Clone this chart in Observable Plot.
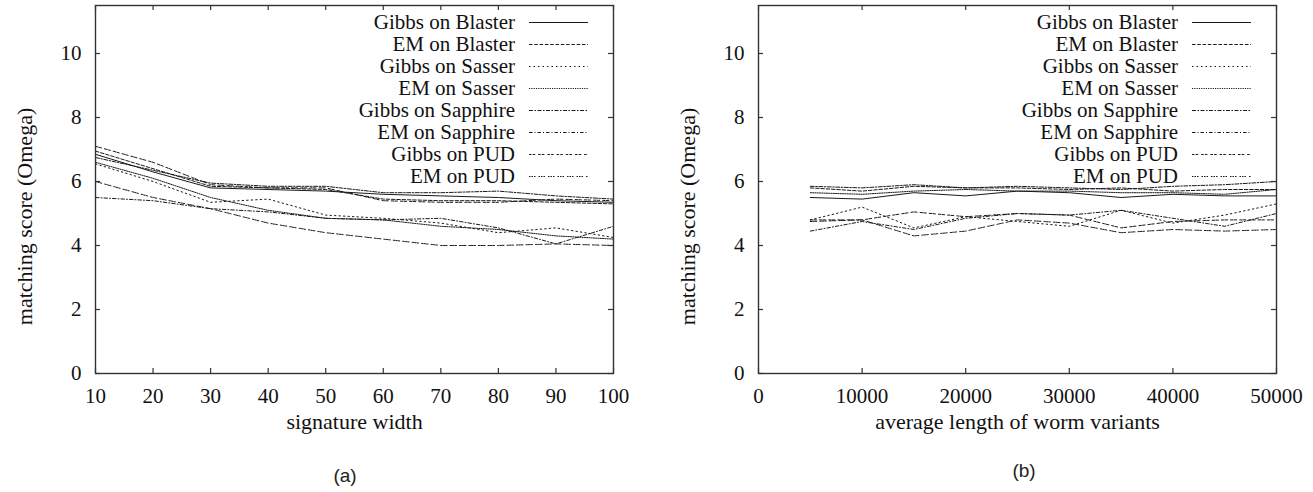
<!DOCTYPE html>
<html>
<head>
<meta charset="utf-8">
<script src="https://cdn.jsdelivr.net/npm/d3@7"></script>
<script src="https://cdn.jsdelivr.net/npm/@observablehq/plot@0.6"></script>
<style>
  html, body { margin: 0; padding: 0; background: #fff; }
  #page { position: relative; width: 1313px; height: 492px; overflow: hidden; }
  #page svg text { font-family: "Liberation Serif", "Times New Roman", serif !important; }
  .panel { position: absolute; top: 0; }
  .caption { position: absolute; font-family: "Liberation Sans", Arial, sans-serif; font-size: 19px; color: #222; transform: translate(-50%, -50%); }
  .legend { position: absolute; left: 0; top: 0; width: 1313px; height: 492px; font-family: "Liberation Serif", "Times New Roman", serif; font-size: 21px; color: #111; }
  .legend .row { position: absolute; height: 22px; line-height: 22px; white-space: nowrap; text-align: right; }
</style>
</head>
<body>
<div id="page"></div>
<script>
// ---------- data ----------
const seriesNames = [
  "Gibbs on Blaster", "EM on Blaster", "Gibbs on Sasser", "EM on Sasser",
  "Gibbs on Sapphire", "EM on Sapphire", "Gibbs on PUD", "EM on PUD"
];

// panel (a): signature width
const widthX = [10, 20, 30, 40, 50, 60, 70, 80, 90, 100];
const gibbsBlasterA   = [6.85, 6.30, 5.80, 5.75, 5.70, 5.60, 5.55, 5.50, 5.40, 5.35];
const emBlasterA      = [6.95, 6.40, 5.85, 5.80, 5.75, 5.45, 5.40, 5.40, 5.35, 5.30];
const gibbsSasserA    = [6.55, 6.00, 5.35, 5.45, 4.95, 4.85, 4.70, 4.40, 4.55, 4.25];
const emSasserA       = [6.60, 6.10, 5.50, 5.10, 4.85, 4.80, 4.60, 4.50, 4.30, 4.20];
const gibbsSapphireA  = [6.75, 6.35, 5.95, 5.85, 5.85, 5.65, 5.65, 5.70, 5.55, 5.45];
const emSapphireA     = [5.50, 5.40, 5.15, 5.05, 4.85, 4.80, 4.85, 4.55, 4.05, 4.60];
const gibbsPudA       = [7.10, 6.60, 5.90, 5.80, 5.80, 5.40, 5.35, 5.35, 5.45, 5.40];
const emPudA          = [6.00, 5.50, 5.15, 4.70, 4.40, 4.20, 4.00, 4.00, 4.05, 4.00];

// panel (b): average length of worm variants
const lengthX = [5000, 10000, 15000, 20000, 25000, 30000, 35000, 40000, 45000, 50000];
const gibbsBlasterB   = [5.50, 5.45, 5.65, 5.55, 5.70, 5.65, 5.50, 5.60, 5.55, 5.55];
const emBlasterB      = [5.80, 5.70, 5.85, 5.80, 5.80, 5.75, 5.80, 5.70, 5.75, 5.75];
const gibbsSasserB    = [4.80, 5.20, 4.55, 4.90, 4.75, 4.60, 5.10, 4.70, 4.95, 5.30];
const emSasserB       = [5.65, 5.60, 5.70, 5.75, 5.70, 5.70, 5.65, 5.65, 5.60, 5.75];
const gibbsSapphireB  = [5.85, 5.80, 5.90, 5.80, 5.85, 5.80, 5.75, 5.85, 5.90, 6.00];
const emSapphireB     = [4.45, 4.75, 4.50, 4.85, 5.00, 4.95, 5.10, 4.85, 4.60, 5.00];
const gibbsPudB       = [4.80, 4.80, 5.05, 4.90, 5.00, 4.95, 4.55, 4.75, 4.80, 4.80];
const emPudB          = [4.75, 4.80, 4.30, 4.45, 4.80, 4.70, 4.40, 4.50, 4.45, 4.50];

const yTicks = [0, 2, 4, 6, 8, 10];
const xTicksA = [10, 20, 30, 40, 50, 60, 70, 80, 90, 100];
const xTicksB = [0, 10000, 20000, 30000, 40000, 50000];

const yLabel = "matching score (Omega)";
const xLabelA = "signature width";
const xLabelB = "average length of worm variants";

// ---------- styles ----------
const dashes = [null, "3.5,1.8", "1.5,3", "1.2,1.1", "4,1.5,1.5,1.5", "3.5,2,1,2", "2.5,1.2,2.5,3", "1.5,1,1.5,1,1.5,3"];
const lineColor = "#1a1a1a";
const frameColor = "#333";
const serif = '"Liberation Serif", "Times New Roman", serif';

function tidy(xs, seriesArrays) {
  return seriesArrays.map((vals, i) => vals.map((v, j) => ({series: seriesNames[i], x: xs[j], y: v})));
}

const dataA = tidy(widthX, [gibbsBlasterA, emBlasterA, gibbsSasserA, emSasserA, gibbsSapphireA, emSapphireA, gibbsPudA, emPudA]);
const dataB = tidy(lengthX, [gibbsBlasterB, emBlasterB, gibbsSasserB, emSasserB, gibbsSapphireB, emSapphireB, gibbsPudB, emPudB]);

const page = document.getElementById("page");
const legendLayer = document.createElement("div");
legendLayer.className = "legend";

function panel({left, width, marginLeft, marginRight, xDomain, xTicks, xLabel, data, caption, captionX, captionY}) {
  const height = 450, marginTop = 5, marginBottom = 77;
  const fw = width - marginLeft - marginRight;
  const fh = height - marginTop - marginBottom;
  const tk = 5;
  const chart = Plot.plot({
    width, height, marginLeft, marginRight, marginTop, marginBottom,
    style: {fontFamily: serif, fontSize: "21px", color: "#111", background: "transparent"},
    x: {domain: xDomain},
    y: {domain: [0, 11.5]},
    marks: [
      ...data.map((rows, i) => Plot.line(rows, {x: "x", y: "y", stroke: lineColor, strokeWidth: 1, strokeDasharray: dashes[i] || undefined})),
      Plot.tickY(yTicks, {y: d => d, insetRight: fw - tk, stroke: frameColor, strokeWidth: 1.2}),
      Plot.tickY(yTicks, {y: d => d, insetLeft: fw - tk, stroke: frameColor, strokeWidth: 1.2}),
      Plot.tickX(xTicks, {x: d => d, insetTop: fh - tk, stroke: frameColor, strokeWidth: 1.2}),
      Plot.tickX(xTicks, {x: d => d, insetBottom: fh - tk, stroke: frameColor, strokeWidth: 1.2}),
      Plot.frame({stroke: frameColor, strokeWidth: 1.4}),
      Plot.axisY({ticks: yTicks, tickSize: 0, tickPadding: 14, label: null, fontSize: 21, fontFamily: serif}),
      Plot.axisX({ticks: xTicks, tickSize: 0, tickPadding: 15, label: null, fontSize: 21, fontFamily: serif, tickFormat: d => String(d)}),
      Plot.text([yLabel], {text: d => d, frameAnchor: "left", textAnchor: "middle", lineAnchor: "middle", rotate: -90, dx: -71, dy: 27, fontSize: 22, fontFamily: serif, fill: "#111"}),
      Plot.text([xLabel], {text: d => d, frameAnchor: "bottom", dy: 55, fontSize: 22, fontFamily: serif, fill: "#111"})
    ]
  });
  const wrap = document.createElement("div");
  wrap.className = "panel";
  wrap.style.left = left + "px";
  wrap.appendChild(chart);
  page.appendChild(wrap);

  // legend (inside plot, top-right)
  const frameRight = left + width - marginRight;
  const textRight = frameRight - 98;
  const sampleLeft = frameRight - 84, sampleW = 59;
  seriesNames.forEach((name, i) => {
    const rowTop = 11 + 22 * i;
    const t = document.createElement("div");
    t.className = "row";
    t.textContent = name;
    t.style.top = rowTop + "px";
    t.style.right = (1313 - textRight) + "px";
    legendLayer.appendChild(t);
    const svg = d3.create("svg").attr("width", sampleW + 2).attr("height", 22)
      .style("position", "absolute").style("left", sampleLeft + "px").style("top", rowTop + "px");
    svg.append("line").attr("x1", 0).attr("x2", sampleW).attr("y1", 11.5).attr("y2", 11.5)
      .attr("stroke", lineColor).attr("stroke-width", 1)
      .attr("stroke-dasharray", dashes[i] || null);
    legendLayer.appendChild(svg.node());
  });

  const cap = document.createElement("div");
  cap.className = "caption";
  cap.textContent = caption;
  cap.style.left = captionX + "px";
  cap.style.top = captionY + "px";
  page.appendChild(cap);
}

panel({left: 0, width: 656, marginLeft: 95, marginRight: 43, xDomain: [10, 100], xTicks: xTicksA, xLabel: xLabelA, data: dataA, caption: "(a)", captionX: 345, captionY: 476});
panel({left: 656, width: 657, marginLeft: 102, marginRight: 37, xDomain: [0, 50000], xTicks: xTicksB, xLabel: xLabelB, data: dataB, caption: "(b)", captionX: 1024, captionY: 471});
page.appendChild(legendLayer);
</script>
</body>
</html>
